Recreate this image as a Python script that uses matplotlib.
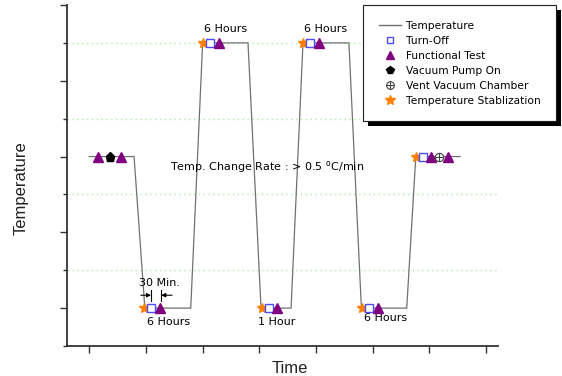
import matplotlib
matplotlib.use('Agg')
import matplotlib.pyplot as plt
from matplotlib.lines import Line2D
from matplotlib.patches import Rectangle

# temperature profile (time in tick units, temperature in level units)
temp_x = [0, 0.79, 0.98, 1.79, 2.0, 2.8, 3.03, 3.56, 3.77, 4.58, 4.8, 5.6, 5.76, 6.54]
temp_y = [2, 2, 0, 0, 3.5, 3.5, 0, 0, 3.5, 3.5, 0, 0, 2, 2]

stab_x = [0.97, 2.0, 3.05, 3.77, 4.81, 5.76]
stab_y = [0, 3.5, 0, 3.5, 0, 2]
off_x = [1.09, 2.13, 3.17, 3.89, 4.93, 5.89]
off_y = [0, 3.5, 0, 3.5, 0, 2]
test_x = [0.15, 0.56, 1.25, 2.29, 3.31, 4.05, 5.09, 6.03, 6.32]
test_y = [2, 2, 0, 3.5, 0, 3.5, 0, 2, 2]
pump_x = [0.36]
pump_y = [2]
vent_x = [6.17]
vent_y = [2]

# duration notes
note_labels = ['6 Hours', '6 Hours', '6 Hours', '1 Hour', '6 Hours']
note_x = [2.40, 4.16, 1.39, 3.31, 5.23]
note_y = [3.68, 3.68, -0.18, -0.18, -0.13]

fig = plt.figure(figsize=(5.62, 3.76), dpi=100)
ax = fig.add_axes([67 / 562, 30 / 376, 431 / 562, 341 / 376])

ax.plot(temp_x, temp_y, color='#707070', lw=0.9, zorder=2)
ax.plot(stab_x, stab_y, ls='none', marker='*', ms=7.5, color='#ff8000', mec='#ff8000', zorder=4)
ax.plot(off_x, off_y, ls='none', marker='s', ms=5.5, mfc='white', mec='#4c4cff', mew=1, zorder=4)
ax.plot(test_x, test_y, ls='none', marker='^', ms=6.5, color='#800080', zorder=4)
ax.plot(pump_x, pump_y, ls='none', marker='p', ms=6.5, color='black', zorder=4)
ax.plot(vent_x, vent_y, ls='none', marker='o', ms=6, mfc='white', mec='#404040', mew=0.8, zorder=4)
ax.plot(vent_x, vent_y, ls='none', marker='+', ms=6, mec='#404040', mew=0.8, zorder=5)

for lab, x, y in zip(note_labels, note_x, note_y):
    ax.text(x, y, lab, ha='center', va='center', fontsize=8, family='DejaVu Sans')

ax.text(1.23, 0.33, '30 Min.', ha='center', va='center', fontsize=8, family='DejaVu Sans')
ax.text(3.13, 1.86, r'Temp. Change Rate : > 0.5 $^{\mathrm{o}}$C/min', ha='center',
        va='center', fontsize=8, family='DejaVu Sans')

# 30 min markers
bar_x = [1.09, 1.27]
tail_x = [0.91, 1.46]
arrow_y = 0.17
for bx, tx in zip(bar_x, tail_x):
    ax.annotate('', xy=(bx, arrow_y), xytext=(tx, arrow_y),
                arrowprops=dict(arrowstyle='-|>', color='black', lw=0.8,
                                mutation_scale=6, shrinkA=0, shrinkB=0))
    ax.plot([bx, bx], [arrow_y - 0.07, arrow_y + 0.07], color='black', lw=0.8)

ax.set_xlim(-0.393, 7.21)
ax.set_ylim(-0.5, 4)
ax.set_xticks(range(8))
ax.set_yticks(range(5))
ax.set_yticks([-0.5, 0.5, 1.5, 2.5, 3.5], minor=True)
ax.set_xticklabels([])
ax.set_yticklabels([])
ax.tick_params(which='major', direction='out', length=5, width=1, color='#333333')
ax.tick_params(which='minor', direction='out', length=3, width=1, color='#333333')
ax.grid(which='minor', axis='y', color='#a6eea6', ls=(0, (1, 2.5)), lw=1)
for s in ['top', 'right']:
    ax.spines[s].set_visible(False)
for s in ['left', 'bottom']:
    ax.spines[s].set_linewidth(1.3)
    ax.spines[s].set_color('#333333')

ax.set_xlabel('Time', fontsize=12, family='Liberation Sans', color='#222222')
ax.set_ylabel('Temperature', fontsize=12, family='Liberation Sans', color='#222222')
ax.xaxis.set_label_coords(0.517, -0.044)
ax.yaxis.set_label_coords(-0.088, 0.463)

handles = [
    Line2D([], [], color='#707070', lw=1),
    Line2D([], [], ls='none', marker='s', ms=5, mfc='white', mec='#4c4cff'),
    Line2D([], [], ls='none', marker='^', ms=6, color='#800080'),
    Line2D([], [], ls='none', marker='p', ms=6, color='black'),
    (Line2D([], [], ls='none', marker='o', ms=5.5, mfc='white', mec='#404040', mew=0.8),
     Line2D([], [], ls='none', marker='+', ms=5.5, mec='#404040', mew=0.8)),
    Line2D([], [], ls='none', marker='*', ms=7, color='#ff8000'),
]
labels = ['Temperature', 'Turn-Off', 'Functional Test', 'Vacuum Pump On',
          'Vent Vacuum Chamber', 'Temperature Stablization']
leg = fig.legend(handles, labels, loc='upper left', bbox_to_anchor=(363 / 562, 1 - 5 / 376),
                 borderaxespad=0, prop={'family': 'DejaVu Sans', 'size': 7.7},
                 fancybox=False, framealpha=1, edgecolor='#202020',
                 borderpad=1.45, handlelength=2.1, handletextpad=0.45, labelspacing=0.47)
leg.get_frame().set_linewidth(0.8)
leg.set_zorder(6)

fig.canvas.draw()
bb = leg.get_window_extent()
shadow = Rectangle((bb.x0 + 5, bb.y0 - 5), bb.width, bb.height, transform=None,
                   facecolor='black', edgecolor='none', zorder=5)
fig.patches.append(shadow)

fig.savefig('out.png', dpi=100)
